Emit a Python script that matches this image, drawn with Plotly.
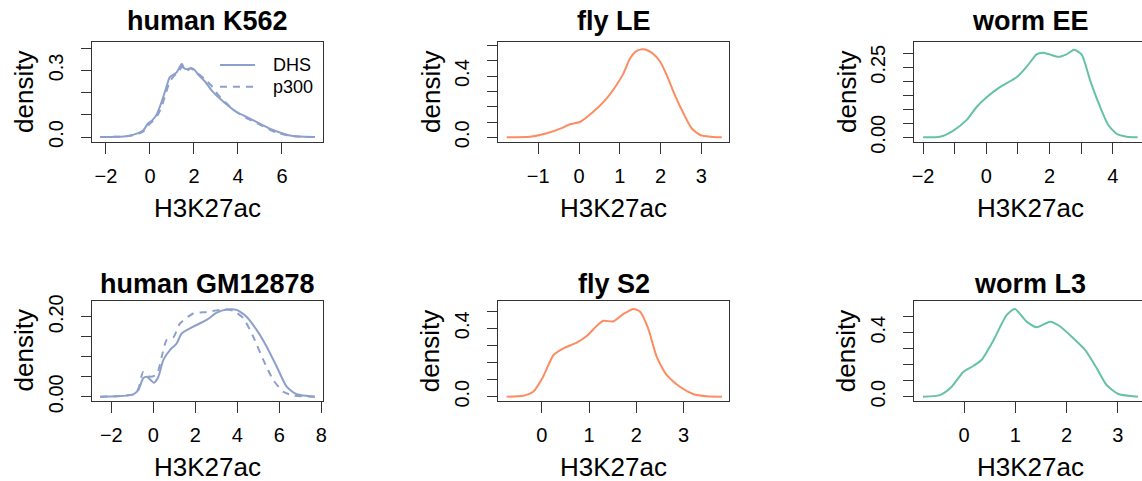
import plotly.graph_objects as go

W, H = 1142, 481

# ---------------- data ----------------
titles = ["human K562", "fly LE", "worm EE", "human GM12878", "fly S2", "worm L3"]
legend_names = ["DHS", "p300"]

k562_x = [-2.27, -1.5, -1.0, -0.6, -0.3, -0.1, 0.1, 0.3, 0.5, 0.7, 0.9, 1.05, 1.2, 1.35, 1.45,
          1.55, 1.7, 1.85, 2.0, 2.2, 2.5, 2.8, 3.1, 3.5, 3.9, 4.3, 4.7, 5.1, 5.5, 5.9, 6.3, 6.8, 7.5]
k562_dhs = [0, 0.001, 0.005, 0.015, 0.03, 0.06, 0.075, 0.1, 0.15, 0.21, 0.27, 0.28, 0.29, 0.315, 0.33,
            0.31, 0.305, 0.31, 0.305, 0.28, 0.25, 0.21, 0.18, 0.145, 0.115, 0.095, 0.075, 0.055, 0.035,
            0.02, 0.008, 0.002, 0]
k562_p300 = [0, 0.001, 0.004, 0.012, 0.025, 0.05, 0.07, 0.09, 0.13, 0.19, 0.25, 0.27, 0.285, 0.3, 0.32,
             0.3, 0.3, 0.31, 0.3, 0.285, 0.26, 0.23, 0.19, 0.15, 0.115, 0.09, 0.07, 0.05, 0.03,
             0.015, 0.006, 0.001, 0]

flyle_x = [-1.77, -1.2, -0.79, -0.38, -0.22, 0.02, 0.35, 0.68, 0.92, 1.09, 1.25, 1.4, 1.55, 1.7,
           1.85, 1.99, 2.15, 2.35, 2.56, 2.76, 2.97, 3.29, 3.5]
flyle_y = [0, 0.003, 0.026, 0.065, 0.085, 0.10, 0.167, 0.255, 0.342, 0.418, 0.515, 0.562, 0.575, 0.566,
           0.538, 0.494, 0.407, 0.276, 0.157, 0.059, 0.015, 0.002, 0]

wormee_x = [-2.0, -1.47, -1.04, -0.62, -0.3, 0.01, 0.43, 0.96, 1.28, 1.59, 1.78, 2.02, 2.28, 2.54,
            2.78, 3.02, 3.28, 3.6, 3.86, 4.13, 4.44, 4.79]
wormee_y = [0, 0.002, 0.024, 0.062, 0.109, 0.143, 0.179, 0.214, 0.252, 0.296, 0.302, 0.295, 0.287,
            0.296, 0.312, 0.295, 0.205, 0.109, 0.044, 0.012, 0.002, 0]

gm_dhs_x = [-2.53, -1.74, -0.95, -0.71, -0.48, -0.31, 0.03, 0.24, 0.48, 0.8, 1.11, 1.35, 1.9, 2.54,
            3.02, 3.49, 3.97, 4.44, 4.92, 5.4, 5.88, 6.35, 6.83, 7.7]
gm_dhs_y = [0, 0.001, 0.006, 0.017, 0.046, 0.05, 0.035, 0.05, 0.092, 0.117, 0.133, 0.158, 0.175, 0.192,
            0.21, 0.218, 0.217, 0.2, 0.167, 0.125, 0.075, 0.025, 0.006, 0]
gm_p300_x = [-2.53, -1.74, -0.95, -0.71, -0.48, -0.17, 0.16, 0.4, 0.64, 0.95, 1.27, 1.9, 2.54, 3.33,
             3.81, 4.29, 4.76, 5.24, 5.71, 6.19, 6.67, 7.7]
gm_p300_y = [0, 0.001, 0.006, 0.02, 0.062, 0.05, 0.055, 0.1, 0.142, 0.148, 0.183, 0.208, 0.212, 0.218,
             0.215, 0.196, 0.15, 0.092, 0.042, 0.0125, 0.003, 0]

flys2_x = [-0.74, -0.39, -0.18, 0.03, 0.25, 0.46, 0.74, 0.95, 1.16, 1.30, 1.51, 1.73, 1.94, 2.08,
           2.25, 2.43, 2.64, 2.92, 3.2, 3.49, 3.81]
flys2_y = [0, 0.006, 0.029, 0.117, 0.244, 0.283, 0.316, 0.355, 0.413, 0.444, 0.44, 0.484, 0.513, 0.497,
           0.4, 0.234, 0.127, 0.058, 0.016, 0.002, 0]

wl3_x = [-0.8, -0.47, -0.24, -0.01, 0.18, 0.34, 0.57, 0.83, 0.99, 1.22, 1.42, 1.68, 1.87, 2.13, 2.36,
         2.59, 2.78, 3.01, 3.39]
wl3_y = [0, 0.01, 0.0625, 0.156, 0.192, 0.229, 0.35, 0.51, 0.548, 0.469, 0.434, 0.469, 0.44, 0.365,
         0.292, 0.177, 0.073, 0.017, 0]

# tick values / labels
x_tickvals = [[-2, 0, 2, 4, 6], [-1, 0, 1, 2, 3], [-2, -1, 0, 1, 2, 3, 4],
              [-2, 0, 2, 4, 6, 8], [0, 1, 2, 3], [0, 1, 2, 3]]
x_ticktext = [["−2", "0", "2", "4", "6"], ["−1", "0", "1", "2", "3"],
              ["−2", "", "0", "", "2", "", "4"],
              ["−2", "0", "2", "4", "6", "8"], ["0", "1", "2", "3"], ["0", "1", "2", "3"]]
y_tickvals = [[0, 0.1, 0.2, 0.3, 0.4], [0, 0.1, 0.2, 0.3, 0.4, 0.5, 0.6],
              [0, 0.05, 0.10, 0.15, 0.20, 0.25, 0.30],
              [0, 0.05, 0.10, 0.15, 0.20], [0, 0.1, 0.2, 0.3, 0.4, 0.5],
              [0, 0.1, 0.2, 0.3, 0.4, 0.5, 0.6]]
y_ticktext = [["0.0", "", "", "0.3", ""], ["0.0", "", "", "", "0.4", "", ""],
              ["0.00", "", "", "", "", "0.25", ""],
              ["0.00", "", "", "", "0.20"], ["0.0", "", "", "", "0.4", ""],
              ["0.0", "", "", "", "0.4", "", ""]]

# ---------------- layout (pixel boxes of the plot regions) ----------------
boxes = [(92, 323, 42, 142), (498.3, 729.3, 41.7, 141.7), (914.3, 1142, 41.7, 141.7),
         (91.7, 323.3, 300.7, 400.7), (498.3, 729.3, 301, 400.7), (914.3, 1142, 301, 400.7)]
x_ranges = [(-2.636, 7.864), (-1.978, 3.684), (-2.278, 4.927),
            (-2.933, 8.095), (-0.918, 3.966), (-0.969, 3.47)]
y_ranges = [(-0.0225, 0.428), (-0.0288, 0.625), (-0.0157, 0.341),
            (-0.01, 0.24), (-0.0234, 0.5597), (-0.025, 0.598)]
title_cx = [207.5, 613.8, 1030.4, 207.5, 613.8, 1030.4]
title_cy = [21, 21, 21, 284, 284, 284]

HUMAN = "#8DA0CB"
FLY = "#FC8D62"
WORM = "#66C2A5"
FONT = "Liberation Sans, Arial, sans-serif"
AXC = "#333333"
DASH = "7px,6px"

fig = go.Figure()

def add(i, x, y, color, dash="solid", name=None):
    ax = "" if i == 0 else str(i + 1)
    fig.add_trace(go.Scatter(x=x, y=y, mode="lines", xaxis="x" + ax, yaxis="y" + ax,
                             line=dict(color=color, width=2, dash=dash, shape="spline", smoothing=0.6),
                             name=name, showlegend=False, hoverinfo="skip"))

add(0, k562_x, k562_dhs, HUMAN, "solid", legend_names[0])
add(0, k562_x, k562_p300, HUMAN, DASH, legend_names[1])
add(1, flyle_x, flyle_y, FLY)
add(2, wormee_x, wormee_y, WORM)
add(3, gm_dhs_x, gm_dhs_y, HUMAN, "solid", legend_names[0])
add(3, gm_p300_x, gm_p300_y, HUMAN, DASH, legend_names[1])
add(4, flys2_x, flys2_y, FLY)
add(5, wl3_x, wl3_y, WORM)

layout = dict(width=W, height=H, autosize=False, margin=dict(l=0, r=0, t=0, b=0, pad=0),
              paper_bgcolor="white", plot_bgcolor="white", showlegend=False,
              font=dict(family=FONT, color="black"))
annotations = []
shapes = []
for i in range(6):
    l, r, t, b = boxes[i]
    ax = "" if i == 0 else str(i + 1)
    right_open = r >= W
    layout["xaxis" + ax] = dict(
        domain=[l / W, r / W], range=list(x_ranges[i]), anchor="y" + ax, automargin=False,
        showline=True, linecolor=AXC, linewidth=1, mirror=True,
        showgrid=False, zeroline=False, ticks="outside", ticklen=11, tickcolor=AXC, tickwidth=1,
        tickvals=x_tickvals[i], ticktext=x_ticktext[i], tickfont=dict(size=20, family=FONT),
        ticklabelstandoff=5)
    layout["yaxis" + ax] = dict(
        domain=[1 - b / H, 1 - t / H], range=list(y_ranges[i]), anchor="x" + ax, automargin=False,
        showline=True, linecolor=AXC, linewidth=1, mirror=(not right_open),
        showgrid=False, zeroline=False, ticks="outside", ticklen=10, tickcolor=AXC, tickwidth=1,
        tickvals=y_tickvals[i], ticktext=y_ticktext[i], tickangle=-90,
        tickfont=dict(size=20, family=FONT), ticklabelstandoff=10)
    annotations.append(dict(text="<b>" + titles[i] + "</b>", x=title_cx[i] / W, y=1 - title_cy[i] / H,
                            xref="paper", yref="paper", showarrow=False, xanchor="center",
                            yanchor="middle", font=dict(size=27, family=FONT)))
    annotations.append(dict(text="H3K27ac", x=title_cx[i] / W, y=1 - (b + 66) / H,
                            xref="paper", yref="paper", showarrow=False, xanchor="center",
                            yanchor="middle", font=dict(size=26, family=FONT)))
    annotations.append(dict(text="density", x=(l - 68) / W, y=1 - ((t + b) / 2) / H,
                            xref="paper", yref="paper", showarrow=False, xanchor="center",
                            yanchor="middle", textangle=-90, font=dict(size=26, family=FONT)))

# legend of the first panel (sample line + label)
leg_y = [65, 86.7]
leg_dash = ["solid", DASH]
for k in range(2):
    shapes.append(dict(type="line", xref="paper", yref="paper",
                       x0=220 / W, x1=255 / W, y0=1 - leg_y[k] / H, y1=1 - leg_y[k] / H,
                       line=dict(color=HUMAN, width=2, dash=leg_dash[k])))
    annotations.append(dict(text=legend_names[k], x=271 / W, y=1 - leg_y[k] / H,
                            xref="paper", yref="paper", showarrow=False, xanchor="left",
                            yanchor="middle", font=dict(size=18, family=FONT)))

layout["annotations"] = annotations
layout["shapes"] = shapes
fig.update_layout(**layout)
fig.write_html("out.html")
